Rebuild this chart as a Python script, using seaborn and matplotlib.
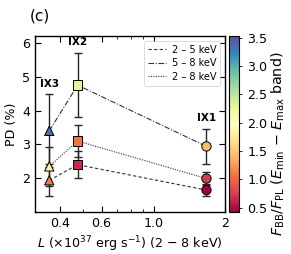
import numpy as np
import pandas as pd
import matplotlib
matplotlib.use("Agg")
import matplotlib.pyplot as plt
import seaborn as sns
from matplotlib.ticker import FixedLocator, NullFormatter, LogLocator
from matplotlib.colors import Normalize
from matplotlib.cm import ScalarMappable

sources = ["IX3", "IX2", "IX1"]
lum = [0.36, 0.475, 1.67]
bands = ["2 – 5 keV", "5 – 8 keV", "2 – 8 keV"]
pd_25 = [1.94, 2.40, 1.65]
err_25 = [0.47, 0.40, 0.18]
ratio_25 = [1.10, 0.64, 0.42]
pd_58 = [3.40, 4.75, 2.94]
err_58 = [1.08, 0.95, 0.52]
ratio_58 = [3.35, 2.30, 1.45]
pd_28 = [2.35, 3.10, 1.99]
err_28 = [0.57, 0.46, 0.20]
ratio_28 = [1.82, 1.07, 0.73]
cbar_ticks = [0.5, 1.0, 1.5, 2.0, 2.5, 3.0, 3.5]
x_ticks = [0.4, 0.6, 1.0, 2]
x_ticklabels = ["0.4", "0.6", "1.0", "2"]

rows = []
for band, p, e, r in zip(bands, [pd_25, pd_58, pd_28], [err_25, err_58, err_28],
                         [ratio_25, ratio_58, ratio_28]):
    for s, l, pi, ei, ri in zip(sources, lum, p, e, r):
        rows.append(dict(band=band, source=s, L=l, PD=pi, err=ei, ratio=ri))
df = pd.DataFrame(rows)

sns.set_style("ticks")
plt.rcParams["font.family"] = ["DejaVu Sans"]
plt.rcParams["mathtext.fontset"] = "dejavusans"
for k in ["text.color", "axes.labelcolor", "xtick.color", "ytick.color", "axes.edgecolor"]:
    plt.rcParams[k] = "black"

FS = 9.1
fig = plt.figure(figsize=(2.91, 2.54), dpi=100)
ax = fig.add_axes([0.120, 0.165, 0.653, 0.693])
cax = fig.add_axes([0.787, 0.165, 0.036, 0.693])

vmin, vmax = 0.42, 3.53
norm = Normalize(vmin, vmax)
cmap = plt.get_cmap("Spectral")

styles = {"2 – 5 keV": (0, (3, 2)), "5 – 8 keV": (0, (5, 1.5, 1, 1.5)), "2 – 8 keV": (0, (1, 1.2))}
for band in bands:
    d = df[df.band == band]
    sns.lineplot(data=d, x="L", y="PD", ax=ax, color="0.2", lw=0.8,
                 linestyle=styles[band], label=band, zorder=2, sort=True)
    ax.errorbar(d.L, d.PD, yerr=d.err, fmt="none", ecolor="0.15",
                elinewidth=1.0, capsize=3, capthick=1.0, zorder=1)

sns.scatterplot(data=df, x="L", y="PD", hue="ratio", style="source",
                markers={"IX3": "^", "IX2": "s", "IX1": "o"},
                palette="Spectral", hue_norm=(vmin, vmax), s=45,
                edgecolor="black", linewidth=0.7, ax=ax, legend=False, zorder=3)

ax.set_xscale("log")
ax.set_xlim(0.313, 2.0)
ax.set_ylim(1.0, 6.2)
ax.xaxis.set_major_locator(FixedLocator(x_ticks))
ax.set_xticklabels(x_ticklabels)
ax.xaxis.set_minor_locator(LogLocator(subs=np.arange(2, 10)))
ax.xaxis.set_minor_formatter(NullFormatter())
ax.set_yticks([2, 3, 4, 5, 6])
ax.tick_params(which="both", direction="in", top=True, right=True, labelsize=FS)
ax.tick_params(which="major", length=4, width=0.8)
ax.tick_params(which="minor", length=2, width=0.6)
for sp in ax.spines.values():
    sp.set_linewidth(1.0)
ax.set_xlabel(r"$L$ ($\times10^{37}$ erg s$^{-1}$) (2 $-$ 8 keV)", fontsize=FS, labelpad=3)
ax.set_ylabel("PD (%)", fontsize=FS, labelpad=3)

leg = ax.legend(loc="upper right", fontsize=7, handlelength=1.8, frameon=True,
                borderpad=0.4, labelspacing=0.35, handletextpad=0.6)
leg.get_frame().set_linewidth(0.6)

# source labels
for i, s in enumerate(sources):
    ax.text(lum[i], pd_58[i] + err_58[i] + 0.17, s, ha="center", va="bottom",
            fontsize=7.5, fontweight="bold")

fig.text(0.103, 0.965, "(c)", fontsize=11, ha="left", va="top")

cb = fig.colorbar(ScalarMappable(norm=norm, cmap=cmap), cax=cax)
cb.set_ticks(cbar_ticks)
cb.ax.tick_params(labelsize=FS, length=2, width=0.6)
cb.outline.set_linewidth(0.8)
cb.set_label(r"$F_{\rm BB}/F_{\rm PL}$ ($E_{\rm min}$ $-$ $E_{\rm max}$ band)", fontsize=10.3)
cb.ax.yaxis.set_label_coords(3.9, 0.39)

fig.savefig("out.png", dpi=100)
